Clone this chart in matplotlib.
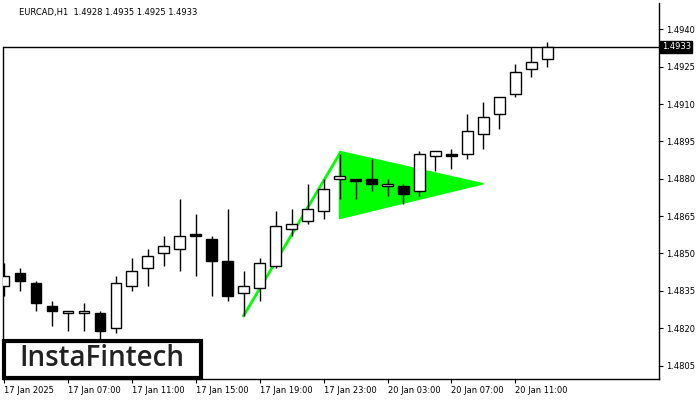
import matplotlib
matplotlib.use('Agg')
import matplotlib.pyplot as plt
from matplotlib.patches import Polygon, Rectangle

# EURCAD H1 candles
opens  = [1.4837, 1.4842, 1.4838, 1.4829, 1.4826, 1.4826, 1.4826, 1.4820, 1.4837, 1.4844,
          1.4850, 1.4852, 1.4858, 1.4856, 1.4847, 1.4834, 1.4836, 1.4845, 1.4860, 1.4863,
          1.4867, 1.4880, 1.4880, 1.4880, 1.4877, 1.4877, 1.4875, 1.4889, 1.4890, 1.4890,
          1.4898, 1.4906, 1.4914, 1.4924, 1.4928]
highs  = [1.4846, 1.4844, 1.4839, 1.4831, 1.4827, 1.4830, 1.4827, 1.4841, 1.4848, 1.4852,
          1.4857, 1.4872, 1.4866, 1.4857, 1.4868, 1.4843, 1.4848, 1.4867, 1.4868, 1.4878,
          1.4880, 1.4890, 1.4880, 1.4888, 1.4880, 1.4878, 1.4891, 1.4891, 1.4892, 1.4906,
          1.4911, 1.4913, 1.4926, 1.4933, 1.4935]
lows   = [1.4833, 1.4835, 1.4827, 1.4821, 1.4819, 1.4819, 1.4815, 1.4818, 1.4835, 1.4837,
          1.4845, 1.4843, 1.4841, 1.4833, 1.4831, 1.4825, 1.4831, 1.4844, 1.4857, 1.4862,
          1.4864, 1.4872, 1.4872, 1.4875, 1.4873, 1.4870, 1.4873, 1.4883, 1.4884, 1.4888,
          1.4892, 1.4900, 1.4913, 1.4921, 1.4925]
closes = [1.4841, 1.4839, 1.4830, 1.4827, 1.4827, 1.4827, 1.4819, 1.4838, 1.4843, 1.4849,
          1.4853, 1.4857, 1.4857, 1.4847, 1.4833, 1.4837, 1.4846, 1.4861, 1.4862, 1.4868,
          1.4876, 1.4881, 1.4879, 1.4878, 1.4878, 1.4874, 1.4890, 1.4891, 1.4889, 1.4899,
          1.4905, 1.4913, 1.4923, 1.4927, 1.4933]

time_ticks = [0, 4, 8, 12, 16, 20, 24, 28, 32]
time_labels = ['17 Jan 2025', '17 Jan 07:00', '17 Jan 11:00', '17 Jan 15:00', '17 Jan 19:00',
               '17 Jan 23:00', '20 Jan 03:00', '20 Jan 07:00', '20 Jan 11:00']
price_ticks = [1.4805, 1.4820, 1.4835, 1.4850, 1.4865, 1.4880, 1.4895, 1.4910, 1.4925, 1.4940]

# bullish pennant
pole_x = [15, 21]
pole_y = [1.4825, 1.4890]
flag_x = [21, 21, 30]
flag_y = [1.4891, 1.4864, 1.4878]

last_price = 1.4933
title = 'EURCAD,H1  1.4928 1.4935 1.4925 1.4933'

fig = plt.figure(figsize=(7, 4), dpi=100)
ax = fig.add_axes([2.5 / 700, 21 / 400, 656.5 / 700, 376.3 / 400])
ax.set_xlim(-0.08, 40.98)
ax.set_ylim(1.47996, 1.49507)

green = '#00ff00'
ax.add_patch(Polygon(list(zip(flag_x, flag_y)), closed=True, facecolor=green,
                     edgecolor=green, lw=1, zorder=1))
ax.plot(pole_x, pole_y, color=green, lw=2, zorder=1)

for i in range(len(opens)):
    o, h, l, c = opens[i], highs[i], lows[i], closes[i]
    ax.vlines(i, l, h, color='black', lw=1, zorder=2)
    fc = 'white' if c >= o else 'black'
    ax.bar(i, max(abs(c - o), 0.00002), bottom=min(o, c), width=0.65,
           facecolor=fc, edgecolor='black', lw=1, zorder=3)

ax.axhline(last_price, color='black', lw=1, zorder=1)

ax.yaxis.tick_right()
ax.set_yticks(price_ticks)
ax.set_yticklabels(['%.4f' % p for p in price_ticks])
ax.set_xticks(time_ticks)
ax.set_xticklabels(time_labels, ha='left')
ax.tick_params(axis='both', labelsize=6, length=3, width=0.8, color='black', pad=2)
ax.tick_params(axis='x', pad=2)
for s in ax.spines.values():
    s.set_linewidth(1)
ax.spines['left'].set_bounds(1.47996, last_price)
ax.spines['top'].set_visible(False)

ax.text(1.004, last_price, '1.4933', transform=ax.get_yaxis_transform(), va='center',
        ha='left', fontsize=6, color='white',
        bbox=dict(boxstyle='square,pad=0.2', facecolor='black', edgecolor='black'))

ax.text(0.025, 0.985, title, transform=ax.transAxes, fontsize=6, va='top', ha='left')

# logo box
fig.patches.append(Rectangle((3.5 / 700, 22.5 / 400), 197 / 700, 37 / 400,
                             transform=fig.transFigure, facecolor='white',
                             edgecolor='black', lw=3, zorder=10))
fig.text(102 / 700, 41 / 400, 'InstaFintech', fontsize=20, family='Open Sans',
         fontweight='semibold', color='#222222', ha='center', va='center', zorder=11)

fig.savefig('out.png', dpi=100)
